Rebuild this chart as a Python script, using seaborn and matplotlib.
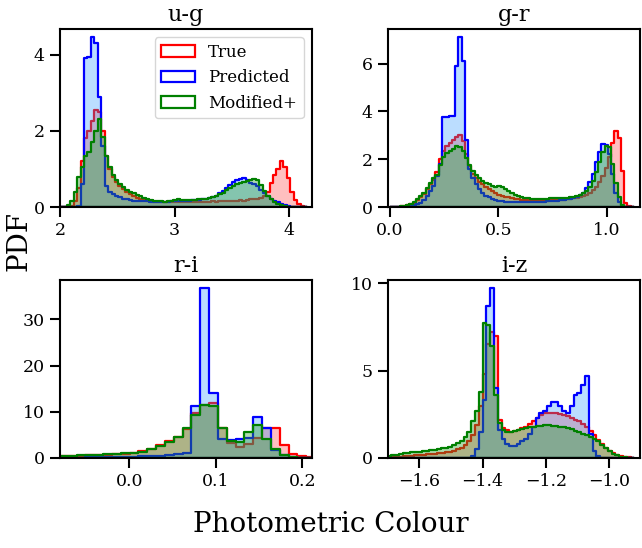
import numpy as np
import matplotlib
matplotlib.use("Agg")
import matplotlib.pyplot as plt
import seaborn as sns
from matplotlib.patches import Patch
from matplotlib.colors import to_rgba
from matplotlib.ticker import MultipleLocator

sns.set_style("ticks")
plt.rcParams["font.family"] = ["DejaVu Serif"]
plt.rcParams["text.color"] = "black"
plt.rcParams["xtick.color"] = "black"
plt.rcParams["ytick.color"] = "black"
plt.rcParams["axes.edgecolor"] = "black"

series_labels = ["True", "Predicted", "Modified+"]
panel_titles = ["u-g", "g-r", "r-i", "i-z"]

# ---- u-g : bins start 2.00, width 0.03 (72 bins) ----
ug_bin_start, ug_bin_width = 2.00, 0.03
ug_true = [0, 0, 0.01, 0.03, 0.15, 0.5, 1.2, 1.8, 2.0, 2.25,
           2.55, 2.5, 2.0, 1.35, 1.0, 0.8, 0.65, 0.55, 0.47, 0.4,
           0.33, 0.28, 0.24, 0.2, 0.18, 0.16, 0.15, 0.14, 0.13, 0.13,
           0.12, 0.12, 0.13, 0.12, 0.13, 0.12, 0.13, 0.12, 0.13, 0.13,
           0.14, 0.13, 0.14, 0.14, 0.15, 0.14, 0.15, 0.16, 0.15, 0.17,
           0.16, 0.17, 0.18, 0.17, 0.19, 0.2, 0.21, 0.22, 0.24, 0.28,
           0.4, 0.62, 0.85, 1.0, 1.2, 1.05, 0.75, 0.4, 0.18, 0.07,
           0.02, 0.0]
ug_pred = [0, 0, 0, 0, 0, 0.03, 0.6, 3.9, 3.95, 4.45,
           4.3, 2.9, 1.6, 0.55, 0.4, 0.35, 0.3, 0.25, 0.22, 0.2,
           0.18, 0.17, 0.16, 0.16, 0.15, 0.15, 0.14, 0.14, 0.14, 0.13,
           0.14, 0.14, 0.15, 0.15, 0.16, 0.16, 0.17, 0.17, 0.18, 0.18,
           0.19, 0.2, 0.21, 0.23, 0.26, 0.3, 0.36, 0.42, 0.5, 0.58,
           0.65, 0.7, 0.74, 0.76, 0.7, 0.64, 0.6, 0.55, 0.45, 0.36,
           0.28, 0.22, 0.17, 0.12, 0.08, 0.05, 0.03, 0.01, 0, 0,
           0, 0]
ug_mod = [0, 0.01, 0.05, 0.15, 0.4, 0.8, 1.05, 1.35, 1.45, 1.7,
          2.0, 2.3, 1.85, 1.35, 1.05, 0.85, 0.7, 0.6, 0.52, 0.45,
          0.4, 0.36, 0.32, 0.28, 0.24, 0.21, 0.19, 0.17, 0.16, 0.15,
          0.14, 0.15, 0.16, 0.18, 0.21, 0.19, 0.18, 0.19, 0.18, 0.19,
          0.2, 0.21, 0.22, 0.24, 0.26, 0.3, 0.33, 0.38, 0.44, 0.5,
          0.55, 0.6, 0.62, 0.65, 0.68, 0.7, 0.73, 0.7, 0.58, 0.42,
          0.3, 0.2, 0.13, 0.08, 0.05, 0.03, 0.01, 0, 0, 0,
          0, 0]

# ---- g-r : bins start 0.0, width 0.015 (75 bins) ----
gr_bin_start, gr_bin_width = 0.0, 0.015
gr_true = [0.01, 0.01, 0.02, 0.03, 0.05, 0.08, 0.12, 0.18, 0.28, 0.4,
           0.55, 0.75, 0.95, 1.15, 1.45, 2.0, 2.35, 2.55, 2.7, 2.8,
           2.95, 3.0, 2.75, 2.2, 1.7, 1.4, 1.2, 1.05, 0.95, 0.85,
           0.75, 0.66, 0.58, 0.52, 0.47, 0.43, 0.4, 0.37, 0.35, 0.33,
           0.31, 0.3, 0.29, 0.28, 0.27, 0.27, 0.26, 0.27, 0.27, 0.28,
           0.28, 0.29, 0.3, 0.31, 0.32, 0.34, 0.36, 0.39, 0.42, 0.47,
           0.52, 0.6, 0.7, 0.85, 1.05, 1.3, 1.65, 2.1, 2.7, 3.2,
           2.9, 1.5, 0.15, 0.03, 0.0]
gr_pred = [0, 0, 0, 0, 0.02, 0.03, 0.05, 0.08, 0.12, 0.18,
           0.3, 0.45, 0.65, 0.9, 1.3, 1.8, 3.75, 3.78, 3.8, 3.8,
           5.9, 7.1, 6.1, 2.8, 1.6, 1.2, 0.95, 0.75, 0.6, 0.48,
           0.4, 0.35, 0.3, 0.27, 0.25, 0.23, 0.22, 0.21, 0.2, 0.2,
           0.2, 0.2, 0.21, 0.21, 0.22, 0.22, 0.23, 0.23, 0.24, 0.25,
           0.26, 0.27, 0.28, 0.3, 0.32, 0.35, 0.38, 0.43, 0.5, 0.6,
           0.8, 1.05, 1.4, 1.9, 2.3, 2.65, 2.6, 2.2, 1.4, 0.6,
           0.2, 0.05, 0.01, 0, 0]
gr_mod = [0, 0.01, 0.01, 0.03, 0.05, 0.08, 0.12, 0.2, 0.32, 0.45,
          0.6, 0.8, 1.0, 1.2, 1.35, 1.75, 2.1, 2.25, 2.35, 2.45,
          2.55, 2.5, 2.35, 2.05, 1.75, 1.5, 1.35, 1.2, 1.1, 1.0,
          0.95, 0.9, 0.85, 0.87, 0.85, 0.75, 0.65, 0.57, 0.5, 0.45,
          0.41, 0.38, 0.36, 0.34, 0.33, 0.33, 0.33, 0.34, 0.35, 0.36,
          0.37, 0.36, 0.37, 0.38, 0.39, 0.4, 0.42, 0.45, 0.5, 0.58,
          0.68, 0.85, 1.1, 1.45, 1.9, 2.3, 2.55, 2.5, 1.8, 1.0,
          0.4, 0.1, 0.02, 0, 0]

# ---- r-i : bins start -0.0812, width 0.0102 (29 bins) ----
ri_bin_start, ri_bin_width = -0.0812, 0.0102
ri_true = [0.4, 0.45, 0.5, 0.55, 0.6, 0.7, 0.8, 0.95, 1.1, 1.5,
           2.0, 2.8, 3.6, 4.6, 6.2, 9.8, 11.5, 11.9, 6.4, 3.2,
           2.4, 3.0, 4.4, 6.6, 6.6, 2.9, 0.9, 0.4, 0.15]
ri_pred = [0.1, 0.1, 0.1, 0.12, 0.15, 0.15, 0.2, 0.25, 0.3, 0.35,
           0.4, 0.5, 0.6, 0.8, 1.1, 11.2, 36.7, 14.0, 4.1, 3.8,
           4.2, 4.3, 8.9, 6.5, 1.7, 0.6, 0.2, 0.05, 0.02]
ri_mod = [0.5, 0.5, 0.6, 0.65, 0.7, 0.8, 0.9, 1.0, 1.1, 1.4,
          1.9, 2.6, 3.5, 4.6, 6.4, 9.3, 11.5, 11.2, 6.5, 3.6,
          3.4, 5.7, 7.1, 4.2, 1.9, 0.6, 0.2, 0.05, 0.02]

# ---- i-z : bins start -1.70, width 0.012 (65 bins) ----
iz_bin_start, iz_bin_width = -1.70, 0.012
iz_true = [0.05, 0.06, 0.07, 0.08, 0.1, 0.12, 0.13, 0.15, 0.17, 0.19,
           0.21, 0.23, 0.25, 0.27, 0.3, 0.33, 0.37, 0.42, 0.5, 0.6,
           0.75, 0.95, 1.3, 1.9, 3.0, 4.8, 6.5, 7.2, 7.0, 2.2,
           1.7, 1.6, 1.5, 1.55, 1.6, 1.7, 1.8, 1.95, 2.1, 2.3,
           2.45, 2.55, 2.6, 2.6, 2.55, 2.5, 2.45, 2.4, 2.3, 2.2,
           2.1, 1.95, 1.8, 1.55, 1.3, 1.05, 0.8, 0.6, 0.42, 0.28,
           0.18, 0.1, 0.06, 0.03, 0.01]
iz_pred = [0, 0, 0, 0, 0, 0, 0, 0, 0, 0,
           0, 0, 0, 0, 0, 0, 0, 0, 0, 0,
           0, 0.02, 0.1, 0.5, 1.5, 3.3, 8.7, 9.7, 4.0, 1.6,
           1.1, 0.8, 0.7, 0.7, 0.8, 0.95, 1.1, 1.4, 1.8, 2.3,
           2.6, 2.7, 3.0, 3.2, 3.2, 3.0, 2.7, 2.6, 3.0, 3.6,
           3.7, 4.2, 4.7, 1.4, 0.4, 0.1, 0.02, 0, 0, 0,
           0, 0, 0, 0, 0]
iz_mod = [0.1, 0.15, 0.2, 0.25, 0.3, 0.3, 0.32, 0.35, 0.37, 0.4,
          0.42, 0.45, 0.48, 0.52, 0.56, 0.6, 0.65, 0.72, 0.85, 1.0,
          1.2, 1.5, 2.1, 2.7, 3.8, 7.7, 7.6, 6.4, 3.6, 2.0,
          1.6, 1.5, 1.5, 1.55, 1.6, 1.65, 1.7, 1.75, 1.8, 1.85,
          1.85, 1.9, 1.9, 1.85, 1.85, 1.8, 1.75, 1.7, 1.65, 1.55,
          1.5, 1.4, 1.3, 1.2, 1.1, 0.95, 0.75, 0.55, 0.4, 0.25,
          0.15, 0.08, 0.04, 0.02, 0.01]

# ---------------- styling ----------------
line_colors = ["#ff0000", "#0000ff", "#008000"]
fill_colors = [to_rgba("#ff0000", 0.25), to_rgba("#1e90ff", 0.3), to_rgba("#2ca02c", 0.38)]

panels = [
    (ug_bin_start, ug_bin_width, [ug_true, ug_pred, ug_mod], (2.0, 4.2), 1.0, 2),
    (gr_bin_start, gr_bin_width, [gr_true, gr_pred, gr_mod], (-0.009, 1.153), 0.5, 2),
    (ri_bin_start, ri_bin_width, [ri_true, ri_pred, ri_mod], (-0.080, 0.211), 0.1, 10),
    (iz_bin_start, iz_bin_width, [iz_true, iz_pred, iz_mod], (-1.699, -0.902), 0.2, 5),
]

W, H = 642, 548
fig = plt.figure(figsize=(W / 100, H / 100), dpi=100)
boxes = [(60, 29), (388, 29), (60, 280), (388, 280)]  # left, top in px
aw, ah = 252, 178

for k, (start, width, data, xlim, xstep, ystep) in enumerate(panels):
    left, top = boxes[k]
    ax = fig.add_axes([left / W, (H - top - ah) / H, aw / W, ah / H])
    n = len(data[0])
    edges = start + width * np.arange(n + 1)
    centers = 0.5 * (edges[:-1] + edges[1:])
    for vals, lc, fc in zip(data, line_colors, fill_colors):
        sns.histplot(x=centers, weights=np.asarray(vals, float), bins=edges.tolist(),
                     stat="count", element="step", fill=True, facecolor=fc,
                     edgecolor=lc, linewidth=1.6, ax=ax)
    ymax = max(max(v) for v in data) * 1.05
    ax.set_xlim(*xlim)
    ax.set_ylim(0, ymax)
    ax.xaxis.set_major_locator(MultipleLocator(xstep))
    ax.yaxis.set_major_locator(MultipleLocator(ystep))
    ax.set_xlabel("")
    ax.set_ylabel("")
    ax.set_title(panel_titles[k], fontsize=16, pad=6)
    ax.tick_params(axis="both", which="major", direction="out", length=7,
                   width=1.5, labelsize=12.5, pad=4)
    for sp in ax.spines.values():
        sp.set_linewidth(1.5)
        sp.set_color("black")
    if k == 0:
        handles = [Patch(facecolor="none", edgecolor=c, linewidth=1.6, label=l)
                   for c, l in zip(line_colors, series_labels)]
        ax.legend(handles=handles, loc="upper right", fontsize=12, frameon=True)

fig.text(19 / W, (H - 241) / H, "PDF", rotation=90, fontsize=20,
         ha="center", va="center")
fig.text(331 / W, (H - 524) / H, "Photometric Colour", fontsize=20,
         ha="center", va="center")

fig.savefig("out.png", dpi=100)
